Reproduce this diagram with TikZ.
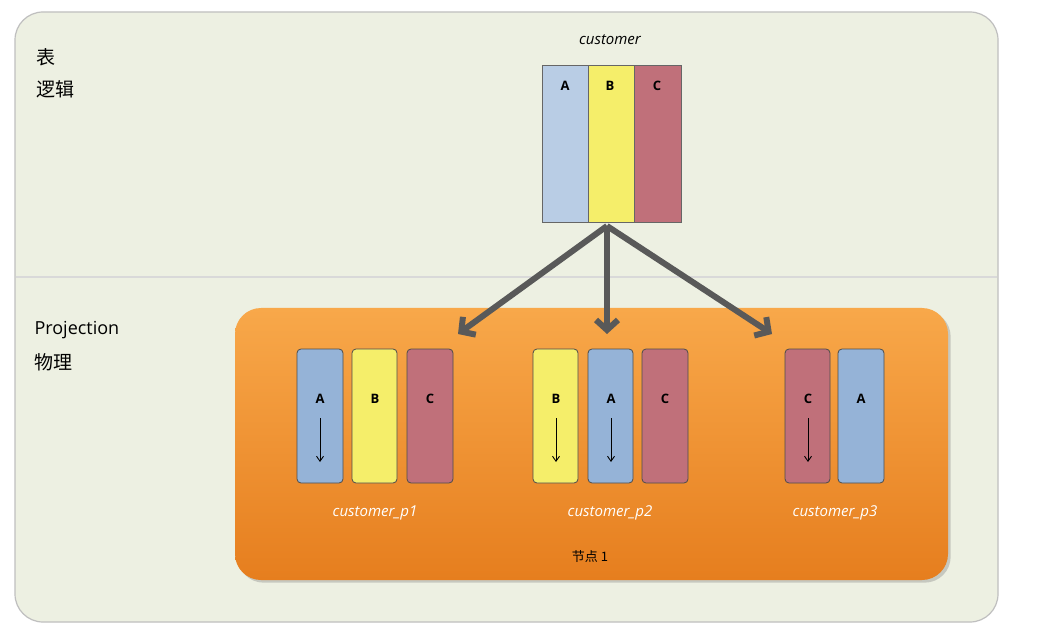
\documentclass[tikz,border=0pt]{standalone}
\usepackage{fontspec}
\setmainfont{Open Sans}
\newfontfamily\cjk{Noto Sans CJK SC}
\usetikzlibrary{arrows.meta,shadows}
\definecolor{panel}{HTML}{EDF0E2}
\definecolor{cblue}{HTML}{95B3D7}
\definecolor{lblue}{HTML}{B9CDE5}
\definecolor{cyel}{HTML}{F5EE6A}
\definecolor{cred}{HTML}{C0707A}
\definecolor{otop}{HTML}{F8A84A}
\definecolor{obot}{HTML}{E67E1E}
\begin{document}
\begin{tikzpicture}[x=1pt,y=-1pt,
  bar/.style={draw=black!70,line width=0.8pt,rounded corners=4pt},
  col/.style={draw=black!60,line width=0.6pt},
  lett/.style={font=\bfseries\fontsize{13}{13}\selectfont},
  plab/.style={font=\itshape\fontsize{15}{15}\selectfont,text=white},
  big/.style={line width=6pt,draw=black!65,-{Straight Barb[length=10pt,width=22pt,line width=6pt]}},
  down/.style={-{Straight Barb[length=5pt,width=7pt]},line width=0.9pt}]
\useasboundingbox (0,0) rectangle (1052,628);
\fill[white] (0,0) rectangle (1052,628);
\draw[draw=black!25,line width=1.2pt,fill=panel,rounded corners=28pt] (15,12) rectangle (998,622);
\draw[black!15,line width=1.5pt] (16,277) -- (997,277);
\node[font=\cjk\fontsize{19}{19}\selectfont,anchor=west] (t1) at (33,57) {表};
\node[font=\cjk\itshape\fontsize{19}{19}\selectfont,anchor=west] (t2) at (33,89) {逻辑};
\node[font=\fontsize{18}{18}\selectfont,anchor=west] (t3) at (31,330) {Projection};
\node[font=\cjk\itshape\fontsize{19}{19}\selectfont,anchor=west] (t4) at (31,362) {物理};
% orange box
\shade[top color=otop,bottom color=obot,rounded corners=26pt,drop shadow={opacity=0.35}] (235,308) rectangle (948,580);
\node[font=\cjk\fontsize{13}{13}\selectfont] (node1) at (590,557) {节点 1};
% customer table
\node[font=\itshape\fontsize{15}{15}\selectfont] (cust) at (610,40) {customer};
\draw[col,fill=lblue] (542,65) rectangle (588,222);
\draw[col,fill=cyel] (588,65) rectangle (634,222);
\draw[col,fill=cred] (634,65) rectangle (681,222);
\node[lett] at (565,86) {A};
\node[lett] at (610,86) {B};
\node[lett] at (657,86) {C};
\coordinate (src) at (607,226);
\coordinate (d1) at (458,334);
\coordinate (d2) at (607,334);
\coordinate (d3) at (772,334);
\draw[big] (src) -- (d1);
\draw[big] (src) -- (d2);
\draw[big] (src) -- (d3);
% p1
\draw[bar,fill=cblue] (297,349) rectangle (343,483);
\draw[bar,fill=cyel] (352,349) rectangle (397,483);
\draw[bar,fill=cred] (407,349) rectangle (453,483);
\node[lett] at (320,399) {A}; \draw[down] (320,418) -- (320,462);
\node[lett] at (375,399) {B};
\node[lett] at (430,399) {C};
\node[plab] (p1) at (375,513) {customer\_p1};
% p2
\draw[bar,fill=cyel] (533,349) rectangle (578,483);
\draw[bar,fill=cblue] (588,349) rectangle (633,483);
\draw[bar,fill=cred] (642,349) rectangle (688,483);
\node[lett] at (556,399) {B}; \draw[down] (556,418) -- (556,462);
\node[lett] at (611,399) {A}; \draw[down] (611,418) -- (611,462);
\node[lett] at (665,399) {C};
\node[plab] (p2) at (610,513) {customer\_p2};
% p3
\draw[bar,fill=cred] (785,349) rectangle (830,483);
\draw[bar,fill=cblue] (838,349) rectangle (884,483);
\node[lett] at (808,399) {C}; \draw[down] (808,418) -- (808,462);
\node[lett] at (861,399) {A};
\node[plab] (p3) at (835,513) {customer\_p3};
\end{tikzpicture}
\end{document}
